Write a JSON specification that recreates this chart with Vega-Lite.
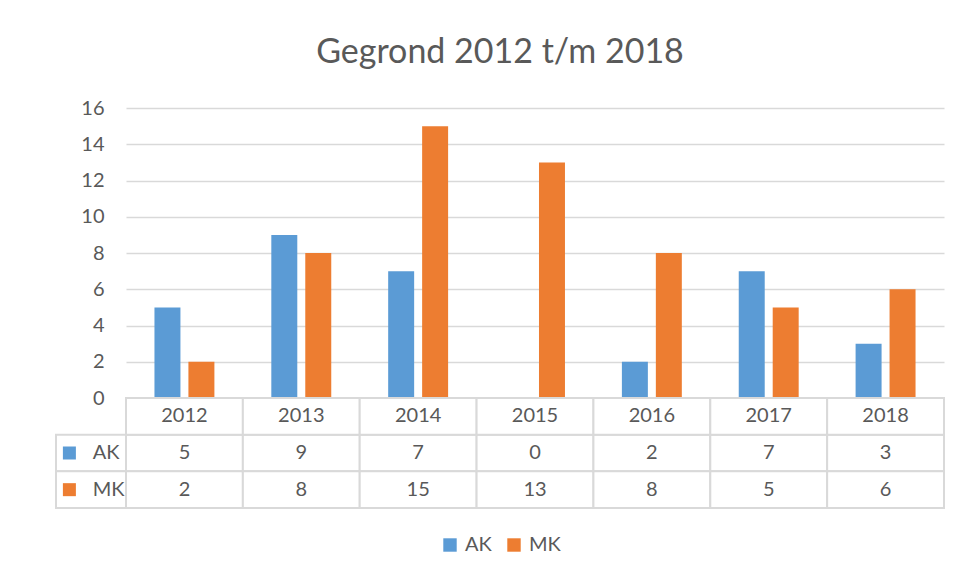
{
  "$schema": "https://vega.github.io/schema/vega-lite/v6.json",
  "background": "white",
  "padding": {"left": 55, "top": 36, "right": 16, "bottom": 10},
  "title": {"text": "Gegrond 2012 t/m 2018", "fontSize": 34, "font": "Lato", "fontWeight": "normal", "color": "#595959", "anchor": "middle", "offset": 28},
  "datasets": {
    "d": [
      {"year": "2012", "series": "AK", "value": 5},
      {"year": "2012", "series": "MK", "value": 2},
      {"year": "2013", "series": "AK", "value": 9},
      {"year": "2013", "series": "MK", "value": 8},
      {"year": "2014", "series": "AK", "value": 7},
      {"year": "2014", "series": "MK", "value": 15},
      {"year": "2015", "series": "AK", "value": 0},
      {"year": "2015", "series": "MK", "value": 13},
      {"year": "2016", "series": "AK", "value": 2},
      {"year": "2016", "series": "MK", "value": 8},
      {"year": "2017", "series": "AK", "value": 7},
      {"year": "2017", "series": "MK", "value": 5},
      {"year": "2018", "series": "AK", "value": 3},
      {"year": "2018", "series": "MK", "value": 6}
    ]
  },
  "columns": 2,
  "spacing": 0,
  "bounds": "flush",
  "concat": [
    {
      "width": 70, "height": 290,
      "data": {"values": [{"a": 0}]},
      "mark": {"type": "text"},
      "encoding": {}
    },
    {
      "width": 818, "height": 290,
      "data": {"name": "d"},
      "mark": {"type": "bar"},
      "encoding": {
        "x": {"field": "year", "type": "nominal", "scale": {"paddingInner": 0, "paddingOuter": 0}, "axis": null},
        "xOffset": {"field": "series", "type": "nominal", "scale": {"paddingInner": 0.235, "paddingOuter": 0.838}},
        "y": {"field": "value", "type": "quantitative", "scale": {"domain": [0, 16]},
              "axis": {"values": [0, 2, 4, 6, 8, 10, 12, 14, 16], "domain": false, "ticks": false, "labelPadding": 22, "grid": true, "gridColor": "#d9d9d9", "gridWidth": 1.5, "title": null, "labelFontSize": 20, "labelColor": "#595959", "labelFont": "Lato"}},
        "color": {"field": "series", "type": "nominal", "scale": {"domain": ["AK", "MK"], "range": ["#5b9bd5", "#ed7d31"]},
                  "legend": {"title": null, "orient": "bottom", "direction": "horizontal", "symbolType": "square", "symbolSize": 180, "labelFontSize": 20, "labelFont": "Lato", "labelColor": "#595959", "offset": 26, "columnPadding": 12, "labelOffset": 5}}
      }
    },
    {
      "width": 70, "height": 110,
      "data": {"name": "d"},
      "transform": [{"filter": "datum.year == '2012'"}],
      "layer": [
        {
          "mark": {"type": "rect", "fill": "white", "stroke": "#d9d9d9", "strokeWidth": 2},
          "encoding": {
            "y": {"field": "series", "type": "nominal", "axis": null, "scale": {"domain": ["jaar", "AK", "MK"], "paddingInner": 0, "paddingOuter": 0}}
          }
        },
        {
          "mark": {"type": "point", "shape": "square", "filled": true, "size": 169, "opacity": 1},
          "encoding": {
            "x": {"datum": "sym", "type": "nominal", "axis": null, "scale": {"type": "point", "domain": ["sym", "lbl"], "padding": 2.3, "align": 0.287}},
            "y": {"field": "series", "type": "nominal", "axis": null, "scale": {"domain": ["jaar", "AK", "MK"], "paddingInner": 0, "paddingOuter": 0}},
            "color": {"field": "series", "type": "nominal", "legend": null}
          }
        },
        {
          "mark": {"type": "text", "align": "left", "baseline": "middle", "fontSize": 20, "font": "Lato", "color": "#595959"},
          "encoding": {
            "x": {"datum": "lbl", "type": "nominal", "axis": null},
            "y": {"field": "series", "type": "nominal", "axis": null},
            "text": {"field": "series"}
          }
        }
      ]
    },
    {
      "width": 818, "height": 110,
      "data": {"name": "d"},
      "layer": [
        {
          "mark": {"type": "rect", "fill": "white", "stroke": "#d9d9d9", "strokeWidth": 2},
          "encoding": {
            "x": {"field": "year", "type": "nominal", "axis": null, "scale": {"paddingInner": 0, "paddingOuter": 0}},
            "y": {"field": "series", "type": "nominal", "axis": null, "scale": {"domain": ["jaar", "AK", "MK"], "paddingInner": 0, "paddingOuter": 0}}
          }
        },
        {
          "mark": {"type": "text", "baseline": "middle", "fontSize": 20, "font": "Lato", "color": "#595959"},
          "encoding": {
            "x": {"field": "year", "type": "nominal", "axis": null},
            "y": {"field": "series", "type": "nominal", "axis": null},
            "text": {"field": "value", "type": "quantitative"}
          }
        },
        {
          "transform": [{"filter": "datum.series == 'AK'"}],
          "mark": {"type": "rect", "fill": "white", "stroke": "#d9d9d9", "strokeWidth": 2},
          "encoding": {
            "x": {"field": "year", "type": "nominal", "axis": null},
            "y": {"datum": "jaar", "type": "nominal", "axis": null}
          }
        },
        {
          "transform": [{"filter": "datum.series == 'AK'"}],
          "mark": {"type": "text", "baseline": "middle", "fontSize": 20, "font": "Lato", "color": "#595959"},
          "encoding": {
            "x": {"field": "year", "type": "nominal", "axis": null},
            "y": {"datum": "jaar", "type": "nominal", "axis": null},
            "text": {"field": "year", "type": "nominal"}
          }
        }
      ]
    }
  ],
  "config": {
    "view": {"stroke": null},
    "legend": {"layout": {"bottom": {"anchor": "middle"}}}
  }
}
